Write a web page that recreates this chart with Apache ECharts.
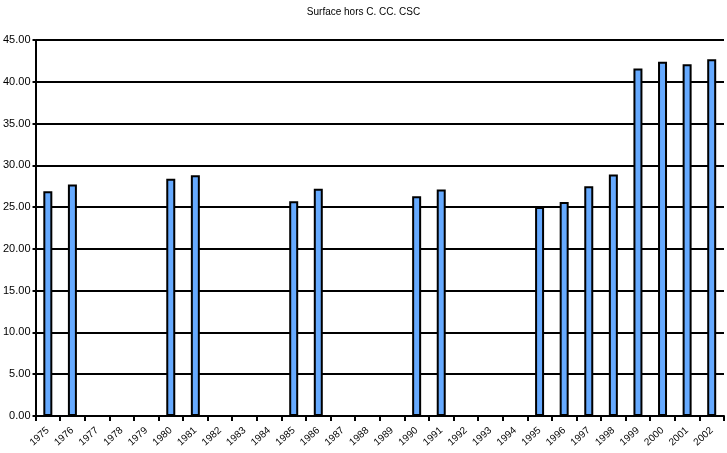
<!DOCTYPE html>
<html>
<head>
<meta charset="utf-8">
<script src="https://cdn.jsdelivr.net/npm/echarts@6/dist/echarts.min.js"></script>
<style>
html,body{margin:0;padding:0;background:#fff;}
#chart{width:727px;height:453px;}
</style>
</head>
<body>
<div id="chart"></div>
<script>
var titleText = "Surface hors C. CC. CSC";
var years = ["1975","1976","1977","1978","1979","1980","1981","1982","1983","1984","1985","1986","1987","1988","1989","1990","1991","1992","1993","1994","1995","1996","1997","1998","1999","2000","2001","2002"];
var values = [26.9, 27.7, null, null, null, 28.4, 28.8, null, null, null, 25.7, 27.2, null, null, null, 26.3, 27.1, null, null, null, 25.0, 25.6, 27.5, 28.9, 41.6, 42.4, 42.1, 42.7];
var yMin = 0, yMax = 45, yStep = 5;

var chart = echarts.init(document.getElementById('chart'), null, {renderer:'canvas'});
chart.setOption({
  animation: false,
  backgroundColor: '#ffffff',
  title: {
    text: titleText,
    left: 'center',
    top: 2,
    textStyle: {fontFamily: 'Liberation Sans', fontSize: 10, fontWeight: 'normal', color: '#000'}
  },
  grid: {left: 34, right: 3, top: 40, bottom: 37, containLabel: false},
  xAxis: {
    type: 'category',
    data: years,
    boundaryGap: true,
    axisLine: {lineStyle: {color: '#000', width: 2}},
    axisTick: {show: true, length: 5, lineStyle: {color: '#000', width: 2}},
    axisLabel: {interval: 0, rotate: 42, fontFamily: 'Liberation Sans', fontSize: 10, color: '#000', margin: 13}
  },
  yAxis: {
    type: 'value',
    min: yMin, max: yMax, interval: yStep,
    axisLine: {show: true, lineStyle: {color: '#000', width: 2}},
    axisTick: {show: true, length: 3, lineStyle: {color: '#000', width: 2}},
    splitLine: {show: true, lineStyle: {color: '#000', width: 2}},
    axisLabel: {fontFamily: 'Liberation Sans', fontSize: 11, color: '#000', margin: 5,
      formatter: function(v){ return v.toFixed(2); }}
  },
  series: [{
    type: 'bar',
    data: values,
    barWidth: 9,
    itemStyle: {color: '#66aaff', borderColor: '#000', borderWidth: 2}
  }]
});
</script>
</body>
</html>
